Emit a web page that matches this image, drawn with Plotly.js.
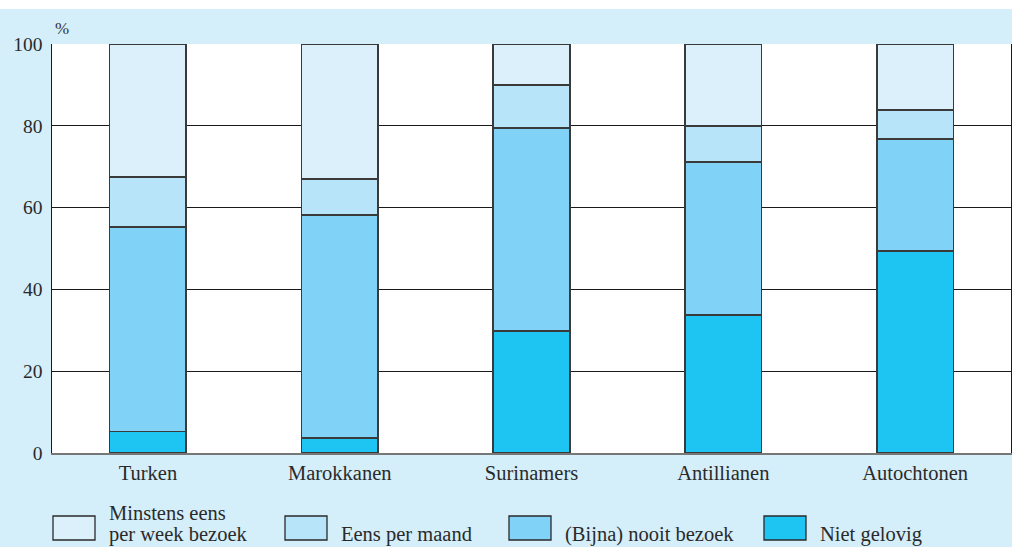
<!DOCTYPE html>
<html>
<head>
<meta charset="utf-8">
<script src="https://cdn.plot.ly/plotly-3.0.1.min.js"></script>
<style>html,body{margin:0;padding:0;background:#fff}#chart{width:1012px;height:547px}</style>
</head>
<body>
<div id="chart"></div>
<script>
const categories = ["Turken", "Marokkanen", "Surinamers", "Antillianen", "Autochtonen"];
const seriesNames = ["Niet gelovig", "(Bijna) nooit bezoek", "Eens per maand", "Minstens eens\nper week bezoek"];
const nietGelovig = [5.3, 3.7, 29.8, 33.7, 49.4];
const bijnaNooit = [50.0, 54.5, 49.7, 37.4, 27.4];
const eensPerMaand = [12.2, 8.8, 10.5, 8.9, 7.1];
const minstensWeek = [32.5, 33.0, 10.0, 20.0, 16.1];
const yTicks = [0, 20, 40, 60, 80, 100];

const colors = ["#1fc5f2", "#80d3f6", "#b8e4f9", "#dbf0fb"];
const values = [nietGelovig, bijnaNooit, eensPerMaand, minstensWeek];

const W = 1012, H = 547;
const M = {l: 52, r: 1, t: 44, b: 94};
const pw = W - M.l - M.r, ph = H - M.t - M.b;
const px = x => (x - M.l) / pw;
const py = y => (H - M.b - y) / ph;

const font = "Liberation Serif, Times New Roman, serif";

const traces = values.map((v, i) => ({
  type: "bar",
  x: categories,
  y: v,
  name: seriesNames[i],
  width: 0.4,
  marker: {color: colors[i], line: {color: "#3a3a3a", width: 1.6}},
  hoverinfo: "skip"
}));

const legendOrder = [3, 2, 1, 0];
const legendSwatchX = [53, 285, 509, 764];
const shapes = [
  {type: "rect", xref: "paper", yref: "paper", x0: px(0), x1: px(W), y0: py(9), y1: py(0), fillcolor: "#ffffff", line: {width: 0}, layer: "below"}
];
const annotations = [
  {xref: "paper", yref: "paper", x: px(53), y: py(28), text: "%", showarrow: false, xanchor: "left", yanchor: "middle", font: {family: font, size: 17, color: "#333"}}
];
legendOrder.forEach((si, k) => {
  const x0 = legendSwatchX[k];
  shapes.push({type: "rect", xref: "paper", yref: "paper", x0: px(x0), x1: px(x0 + 42), y0: py(540), y1: py(516), fillcolor: colors[si], line: {color: "#2a2a2a", width: 1.3}});
  const lines = seriesNames[si].split("\n");
  lines.forEach((ln, j) => {
    const cy = lines.length > 1 ? 513 + j * 21 : 534;
    annotations.push({xref: "paper", yref: "paper", x: px(x0 + 54), y: py(cy),
      text: ln, showarrow: false, xanchor: "left", yanchor: "middle", align: "left",
      font: {family: font, size: 20.5, color: "#2a2a2a"}});
  });
});

const layout = {
  width: W, height: H,
  margin: M,
  paper_bgcolor: "#d4eefa",
  plot_bgcolor: "#ffffff",
  barmode: "stack",
  showlegend: false,
  xaxis: {
    range: [-0.5, 4.5], showgrid: false, zeroline: false,
    showline: true, linecolor: "#777", linewidth: 2, mirror: false,
    ticks: "", ticklen: 0, ticklabelstandoff: 0,
    tickfont: {family: font, size: 20.5, color: "#2a2a2a"}, fixedrange: true
  },
  yaxis: {
    range: [0, 100], tickvals: yTicks, ticktext: yTicks.map(String),
    showgrid: true, gridcolor: "#1a1a1a", gridwidth: 1.3, zeroline: false,
    showline: true, linecolor: "#1a1a1a", linewidth: 1.5, mirror: true,
    ticks: "", ticklabelstandoff: 4,
    tickfont: {family: font, size: 19.5, color: "#2a2a2a"}, fixedrange: true
  },
  shapes: shapes,
  annotations: annotations
};

Plotly.newPlot("chart", traces, layout, {displayModeBar: false, staticPlot: true});
</script>
</body>
</html>
